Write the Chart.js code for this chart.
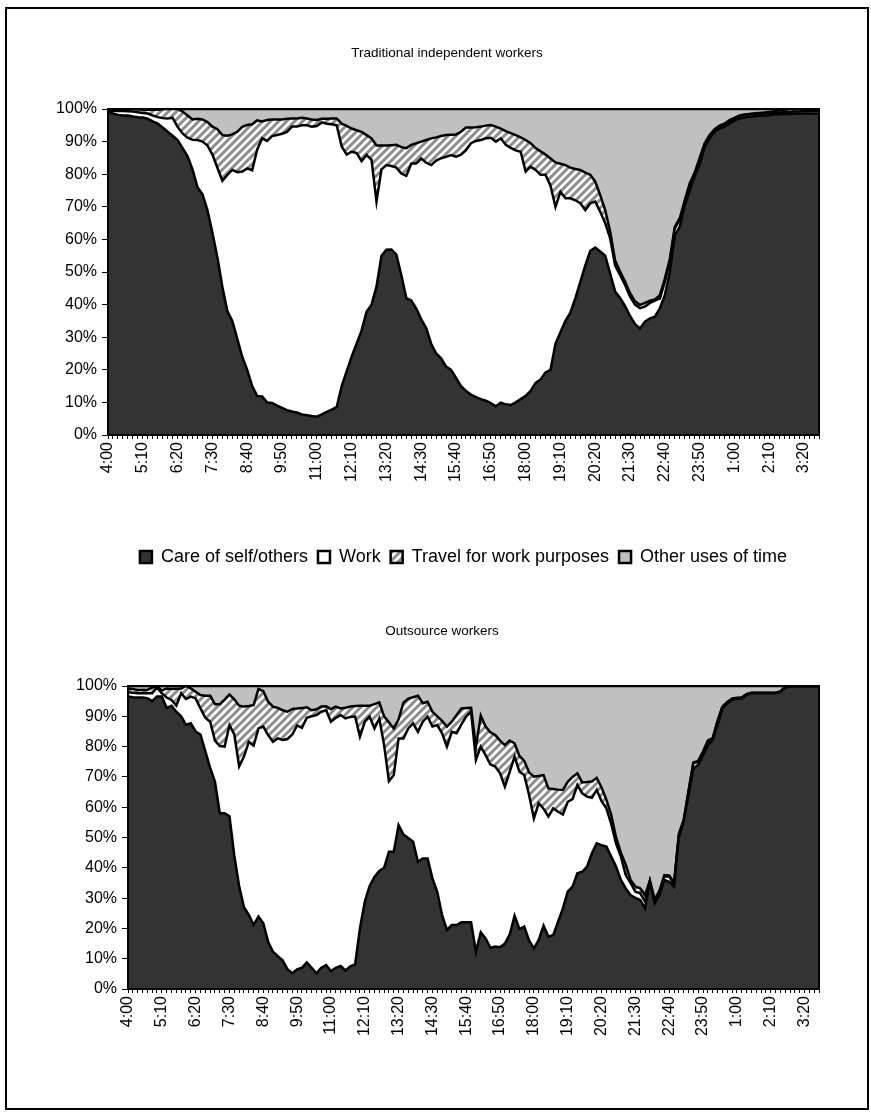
<!DOCTYPE html>
<html>
<head>
<meta charset="utf-8">
<script src="https://cdn.jsdelivr.net/npm/chart.js@4.4.1/dist/chart.umd.min.js"></script>
<style>
  html, body { margin: 0; padding: 0; background: #fff; }
  body { width: 871px; height: 1113px; position: relative; overflow: hidden; }
  #frame { position: absolute; left: 5px; top: 7px; width: 864px; height: 1103px; border: 2px solid #000; box-sizing: border-box; }
  canvas { position: absolute; left: 0; }
  #trad { top: 0; }
  #outs { top: 580px; }
</style>
</head>
<body>
<div id="frame"></div>
<canvas id="trad" width="871" height="580"></canvas>
<canvas id="outs" width="871" height="533"></canvas>
<script>
// ==== 1. Data ====
// 10-minute slots, 4:00 through 3:50
const times = [
  '4:00','4:10','4:20','4:30','4:40','4:50','5:00','5:10','5:20','5:30','5:40','5:50',
  '6:00','6:10','6:20','6:30','6:40','6:50','7:00','7:10','7:20','7:30','7:40','7:50',
  '8:00','8:10','8:20','8:30','8:40','8:50','9:00','9:10','9:20','9:30','9:40','9:50',
  '10:00','10:10','10:20','10:30','10:40','10:50','11:00','11:10','11:20','11:30','11:40','11:50',
  '12:00','12:10','12:20','12:30','12:40','12:50','13:00','13:10','13:20','13:30','13:40','13:50',
  '14:00','14:10','14:20','14:30','14:40','14:50','15:00','15:10','15:20','15:30','15:40','15:50',
  '16:00','16:10','16:20','16:30','16:40','16:50','17:00','17:10','17:20','17:30','17:40','17:50',
  '18:00','18:10','18:20','18:30','18:40','18:50','19:00','19:10','19:20','19:30','19:40','19:50',
  '20:00','20:10','20:20','20:30','20:40','20:50','21:00','21:10','21:20','21:30','21:40','21:50',
  '22:00','22:10','22:20','22:30','22:40','22:50','23:00','23:10','23:20','23:30','23:40','23:50',
  '0:00','0:10','0:20','0:30','0:40','0:50','1:00','1:10','1:20','1:30','1:40','1:50',
  '2:00','2:10','2:20','2:30','2:40','2:50','3:00','3:10','3:20','3:30','3:40','3:50'
];
const shownTicks = ['4:00','5:10','6:20','7:30','8:40','9:50','11:00','12:10','13:20','14:30','15:40',
  '16:50','18:00','19:10','20:20','21:30','22:40','23:50','1:00','2:10','3:20'];
const seriesNames = ['Care of self/others', 'Work', 'Travel for work purposes', 'Other uses of time'];

// Traditional independent workers (% of people in each activity)
const careTrad = [
  99.0,98.6,98.2,98.0,98.0,97.7,97.5,97.4,97.0,96.2, 95.5,94.3,93.0,91.8,90.5,88.0,85.5,81.5,76.0,73.8,
  69.0,62.0,54.5,45.5,38.0,35.0,29.5,24.0,20.0,15.0, 12.0,11.8,10.0,9.8,9.0,8.3,7.6,7.2,6.9,6.3,
  6.1,5.8,5.6,6.3,7.1,7.8,8.6,15.0,19.5,24.0, 28.0,32.0,37.8,40.0,45.5,55.0,56.8,56.9,55.3,49.0,
  42.0,41.3,38.8,35.5,32.8,28.0,25.0,23.5,21.0,20.0, 17.5,15.0,13.5,12.4,11.6,11.0,10.5,9.8,8.8,9.9,
  9.4,9.2,10.0,11.0,12.0,13.5,16.0,17.0,19.2,20.0, 28.0,31.5,35.0,37.5,42.0,47.0,52.0,56.5,57.5,56.3,
  55.0,49.5,44.0,42.0,39.5,36.5,34.0,32.7,34.8,35.8, 36.3,38.9,43.0,50.0,61.3,63.9,70.5,75.0,79.5,83.0,
  88.4,91.0,93.0,94.0,94.6,95.6,96.4,97.1,97.4,97.6, 97.8,97.9,98.0,98.1,98.3,98.4,98.5,98.5,98.6,98.6,
  98.6,98.6,98.6,98.6
];
const workTrad = [
  0.5,0.9,1.2,1.4,1.3,1.5,1.5,1.4,1.6,1.8, 2.0,2.9,4.1,5.5,4.0,4.5,5.7,9.1,14.5,16.2,
  19.8,24.0,27.5,32.5,41.8,46.3,51.1,56.8,61.8,66.2, 75.5,79.2,80.2,81.9,83.0,84.1,85.4,87.4,87.7,88.7,
  88.9,88.8,89.2,89.6,88.4,87.5,86.4,73.5,66.5,62.9, 58.5,52.0,48.1,44.4,26.1,26.5,26.0,25.6,26.7,31.2,
  37.5,42.0,44.5,49.3,50.7,54.8,59.2,61.4,64.3,65.9, 67.9,71.0,73.9,77.1,78.6,79.5,80.5,81.4,81.2,81.1,
  79.6,78.9,77.3,75.9,68.8,68.8,65.3,62.8,60.6,56.5, 42.0,43.1,37.6,35.1,30.0,24.1,17.0,14.6,14.1,12.2,
  10.0,10.8,8.0,7.0,6.5,5.9,6.0,6.2,4.6,4.7, 4.9,3.0,4.0,3.0,2.1,2.1,1.0,1.5,0.3,1.0,
  0.6,0.5,0.5,0.5,0.6,0.7,0.6,0.7,0.7,0.7, 0.6,0.6,0.6,0.6,0.5,0.5,0.5,0.6,0.6,0.6,
  0.7,0.7,0.8,0.8
];
const travelTrad = [
  0.5,0.5,0.6,0.6,0.7,0.8,0.9,1.0,1.2,1.8, 2.3,2.7,2.9,2.7,5.5,6.7,6.8,6.2,6.5,6.8,
  7.2,8.6,11.8,14.0,12.0,10.9,12.4,13.7,13.3,14.1, 9.0,5.2,6.4,5.1,4.8,4.4,4.0,2.5,2.5,2.3,
  2.1,2.2,1.8,1.1,1.5,1.8,2.1,7.0,8.8,7.1, 7.0,9.0,6.1,6.6,17.2,7.3,6.0,6.4,7.0,8.1,
  8.5,5.7,6.2,5.2,7.0,8.2,7.1,6.8,6.7,6.2, 6.8,7.0,6.9,4.8,4.2,4.1,3.9,3.9,4.6,3.0,
  4.2,4.5,4.7,4.4,9.7,7.2,6.7,7.2,6.2,8.3, 13.6,8.6,10.2,9.4,9.6,10.2,11.5,8.7,6.1,5.1,
  4.0,2.1,1.5,1.1,1.0,1.1,1.0,1.0,1.1,0.7, 0.4,1.0,1.0,1.0,0.5,0.5,0.5,0.7,0.7,1.0,
  0.5,0.5,0.3,0.4,0.3,0.3,0.3,0.2,0.2,0.2, 0.3,0.3,0.3,0.4,0.5,0.7,0.8,0.8,0.8,0.8,
  0.7,0.7,0.6,0.6
];
const otherTrad = [
  0,0,0,0,0,0,0.1,0.2,0.2,0.2, 0.2,0.1,0,0,0,0.8,2.0,3.2,3.0,3.2,
  4.0,5.4,6.2,8.0,8.2,7.8,7.0,5.5,4.9,4.7, 3.5,3.8,3.4,3.2,3.2,3.2,3.0,2.9,2.9,2.7,
  2.9,3.2,3.4,3.0,3.0,2.9,2.9,4.5,5.2,6.0, 6.5,7.0,8.0,9.0,11.2,11.2,11.2,11.1,11.0,11.7,
  12.0,11.0,10.5,10.0,9.5,9.0,8.7,8.3,8.0,7.9, 7.8,7.0,5.7,5.7,5.6,5.4,5.1,4.9,5.4,6.0,
  6.8,7.4,8.0,8.7,9.5,10.5,12.0,13.0,14.0,15.2, 16.4,16.8,17.2,18.0,18.4,18.7,19.5,20.2,22.3,26.4,
  31.0,37.6,46.5,49.9,53.0,56.5,59.0,60.1,59.5,58.8, 58.4,57.1,52.0,46.0,36.1,33.5,28.0,22.8,19.5,15.0,
  10.5,8.0,6.2,5.1,4.5,3.4,2.7,2.0,1.7,1.5, 1.3,1.2,1.1,0.9,0.7,0.4,0.2,0.1,0,0,
  0,0,0,0
];

// Outsource workers
const careOuts = [
  96.5,96.3,96.2,96.2,96.0,95.0,96.5,96.5,92.8,93.5, 91.5,90.0,87.2,87.7,85.0,84.0,78.5,73.0,68.4,58.0,
  58.0,57.0,44.0,34.0,27.0,24.5,21.2,23.9,21.7,15.6, 12.3,10.8,9.5,6.5,5.2,6.5,7.0,8.8,7.0,5.2,
  7.0,7.9,5.9,7.0,7.6,6.1,7.5,8.1,20.0,28.8, 34.0,37.0,39.0,40.0,45.3,45.3,54.1,51.0,49.8,48.6,
  42.0,43.1,43.1,36.5,32.1,24.4,19.5,21.1,21.1,22.0, 22.0,22.0,12.3,18.7,16.7,13.6,14.0,13.8,15.0,18.0,
  24.2,19.8,20.6,16.0,13.4,16.2,20.9,17.3,17.8,22.2, 26.6,32.1,33.8,38.2,38.7,40.4,44.8,48.1,47.5,47.0,
  43.7,40.4,36.0,33.2,31.0,30.1,29.4,26.6,35.4,28.3, 31.0,36.0,35.4,33.8,50.0,55.2,64.0,72.8,74.0,77.2,
  80.5,82.2,87.1,92.6,94.3,95.5,95.8,95.9,97.0,97.6, 97.6,97.6,97.6,97.6,97.6,98.0,99.5,99.8,99.8,99.8,
  99.8,99.8,99.8,99.8
];
const workOuts = [
  1.4,1.5,1.4,1.4,1.6,2.6,3.0,1.1,3.4,1.9, 2.0,7.6,8.5,8.8,10.9,8.6,11.0,15.2,13.6,22.2,
  22.0,30.1,40.0,39.5,49.7,57.1,59.1,62.1,64.9,68.2, 69.3,71.9,72.7,76.0,78.8,80.5,79.2,80.7,83.0,85.2,
  84.5,84.1,82.3,82.5,82.8,83.2,82.3,81.8,63.3,59.4, 55.9,49.0,50.3,40.5,23.3,25.3,28.6,31.7,36.2,39.1,
  42.9,45.1,46.8,50.1,55.0,60.0,60.5,63.8,63.3,65.3, 68.0,69.5,63.3,61.3,60.5,60.5,59.4,57.4,51.8,53.7,
  52.5,51.9,50.0,48.0,42.9,45.1,38.6,39.6,41.8,36.3, 31.0,29.7,28.9,29.1,25.9,23.1,18.3,17.6,14.5,12.6,
  10.8,7.6,7.7,4.4,4.0,2.0,2.2,2.2,0.1,0.5, 1.1,1.1,1.7,0.7,0.8,0.3,1.1,1.7,1.0,0.9,
  1.1,0.3,1.1,0.4,0.2,0.2,0.2,0.2,0.2,0.1, 0.1,0.1,0.1,0.1,0.1,0.1,0.1,0.1,0.1,0.1,
  0.1,0.1,0.1,0.1
];
const travelOuts = [
  1.3,1.2,1.1,1.1,1.1,1.9,0.5,0.9,3.0,3.6, 5.6,1.6,4.3,2.7,2.2,4.4,7.3,8.6,12.0,13.8,
  15.5,10.1,11.6,20.0,16.5,11.8,13.4,13.0,11.7,11.0, 11.6,10.1,9.8,9.0,8.4,5.6,6.5,3.5,2.0,1.9,
  1.7,1.3,4.2,3.7,2.2,3.5,3.4,3.5,10.2,5.3, 3.6,8.0,5.3,9.5,19.4,15.4,6.3,11.8,9.8,8.6,
  11.9,6.1,4.9,4.9,2.9,4.1,6.6,3.3,6.0,5.3, 2.7,1.3,4.4,10.2,9.4,10.6,10.4,10.8,13.7,10.3,
  4.4,5.2,4.7,7.5,13.8,9.0,11.1,9.3,6.4,7.3, 8.1,6.6,7.3,3.9,3.6,4.8,5.4,4.0,4.5,2.9,
  3.0,2.0,1.3,3.4,1.0,1.7,1.6,2.2,0.3,0.7, 0.4,0.5,0.4,0.5,0.4,0.3,0.3,0.3,0.3,0.3,
  0.4,0.3,0.3,0.2,0.2,0.1,0.1,0.1,0.1,0.1, 0.1,0.1,0.1,0.1,0.1,0.1,0.1,0.1,0.1,0.1,
  0.1,0.1,0.1,0.1
];
const otherOuts = [
  0.8,1.0,1.3,1.3,1.3,0.5,0,1.5,0.8,1.0, 0.9,0.8,0,0.8,1.9,3.0,3.2,3.2,6.0,6.0,
  4.5,2.8,4.4,6.5,6.8,6.6,6.3,1.0,1.7,5.2, 6.8,7.2,8.0,8.5,7.6,7.4,7.3,7.0,8.0,7.7,
  6.8,6.7,7.6,6.8,7.4,7.2,6.8,6.6,6.5,6.5, 6.5,6.0,5.4,10.0,12.0,14.0,11.0,5.5,4.2,3.7,
  3.2,5.7,5.2,8.5,10.0,11.5,13.4,11.8,9.6,7.4, 7.3,7.2,20.0,9.8,13.4,15.3,16.2,18.0,19.5,18.0,
  18.9,23.1,24.7,28.5,29.9,29.7,29.4,33.8,34.0,34.2, 34.3,31.6,30.0,28.8,31.8,31.7,31.5,30.3,33.5,37.5,
  42.5,50.0,55.0,59.0,64.0,66.2,66.8,69.0,64.2,70.5, 67.5,62.4,62.5,65.0,48.8,44.2,34.6,25.2,24.7,21.6,
  18.0,17.2,11.5,6.8,5.3,4.2,3.9,3.8,2.7,2.2, 2.2,2.2,2.2,2.2,2.2,1.8,0.3,0,0,0,
  0,0,0,0
];

// ==== 2. Styling helpers ====
const FONT = 'Arial, "Liberation Sans", sans-serif';

// diagonal grey/white stripes like the Excel pattern fill
function makeHatch() {
  const c = document.createElement('canvas');
  c.width = 8; c.height = 8;
  const g = c.getContext('2d');
  g.fillStyle = '#fff';
  g.fillRect(0, 0, 8, 8);
  g.strokeStyle = '#8c8c8c';
  g.lineWidth = 3;
  g.beginPath();
  g.moveTo(-2, 10); g.lineTo(10, -2);
  g.moveTo(-2, 2); g.lineTo(2, -2);
  g.moveTo(6, 10); g.lineTo(10, 6);
  g.stroke();
  return g.createPattern(c, 'repeat');
}
const hatch = makeHatch();
const fills = ['#333333', '#ffffff', hatch, '#c0c0c0'];

function makeSets(series) {
  return series.map((d, i) => ({
    label: seriesNames[i],
    data: d,
    backgroundColor: fills[i],
    borderColor: '#000',
    borderWidth: 2.5,
    fill: i === 0 ? 'origin' : '-1',
    pointRadius: 0,
    tension: 0
  }));
}

// black frame round the plot area
const plotBorder = {
  id: 'plotBorder',
  afterDraw(chart) {
    const { ctx, chartArea: a } = chart;
    ctx.save();
    ctx.strokeStyle = '#000';
    ctx.lineWidth = 2;
    ctx.strokeRect(a.left, a.top, a.right - a.left, a.bottom - a.top);
    ctx.restore();
  }
};

// chart title centred on the whole figure rather than on the canvas box
const figTitle = {
  id: 'figTitle',
  afterDraw(chart, args, opts) {
    const ctx = chart.ctx;
    ctx.save();
    ctx.font = '13.5px ' + FONT;
    ctx.fillStyle = '#000';
    ctx.textAlign = 'center';
    ctx.textBaseline = 'middle';
    ctx.fillText(opts.text, opts.x, opts.y);
    ctx.restore();
  }
};

function makeOptions(cfg) {
  return {
    responsive: false,
    animation: false,
    devicePixelRatio: 1,
    layout: { padding: { left: 0, right: 52, top: cfg.padTop, bottom: cfg.padBottom } },
    plugins: {
      title: { display: false },
      figTitle: cfg.title,
      legend: cfg.legend ? {
        display: true, position: 'bottom', fullSize: false,
        labels: { color: '#000', boxWidth: 12, boxHeight: 12, padding: 10, font: { family: FONT, size: 18 } }
      } : { display: false },
      tooltip: { enabled: false }
    },
    scales: {
      x: {
        offset: false,
        grid: { display: true, drawOnChartArea: false, drawTicks: true, tickLength: 4, color: '#000' },
        border: { color: '#000', width: 2 },
        ticks: {
          autoSkip: false, maxRotation: 90, minRotation: 90, padding: 3, color: '#000',
          font: { family: FONT, size: 16 },
          callback: (v, i) => shownTicks.includes(times[i]) ? times[i] : ''
        },
        afterFit: s => { s.height = cfg.axisHeight; }
      },
      y: {
        stacked: true, min: 0, max: 100,
        grid: { display: true, drawOnChartArea: false, drawTicks: true, tickLength: 6, color: '#000' },
        border: { color: '#000', width: 2 },
        ticks: {
          stepSize: 10, padding: 5, color: '#000',
          font: { family: FONT, size: 16 },
          callback: v => v + '%'
        },
        afterFit: s => { s.width = cfg.plotLeft; }
      }
    }
  };
}

// ==== 3. Charts ====
new Chart(document.getElementById('trad'), {
  type: 'line',
  data: { labels: times, datasets: makeSets([careTrad, workTrad, travelTrad, otherTrad]) },
  options: makeOptions({
    title: { text: 'Traditional independent workers', x: 447, y: 53 },
    legend: true, padTop: 109, padBottom: 4, axisHeight: 103, plotLeft: 108
  }),
  plugins: [plotBorder, figTitle]
});

new Chart(document.getElementById('outs'), {
  type: 'line',
  data: { labels: times, datasets: makeSets([careOuts, workOuts, travelOuts, otherOuts]) },
  options: makeOptions({
    title: { text: 'Outsource workers', x: 442, y: 51 },
    legend: false, padTop: 106, padBottom: 0, axisHeight: 124, plotLeft: 128
  }),
  plugins: [plotBorder, figTitle]
});
</script>
</body>
</html>
